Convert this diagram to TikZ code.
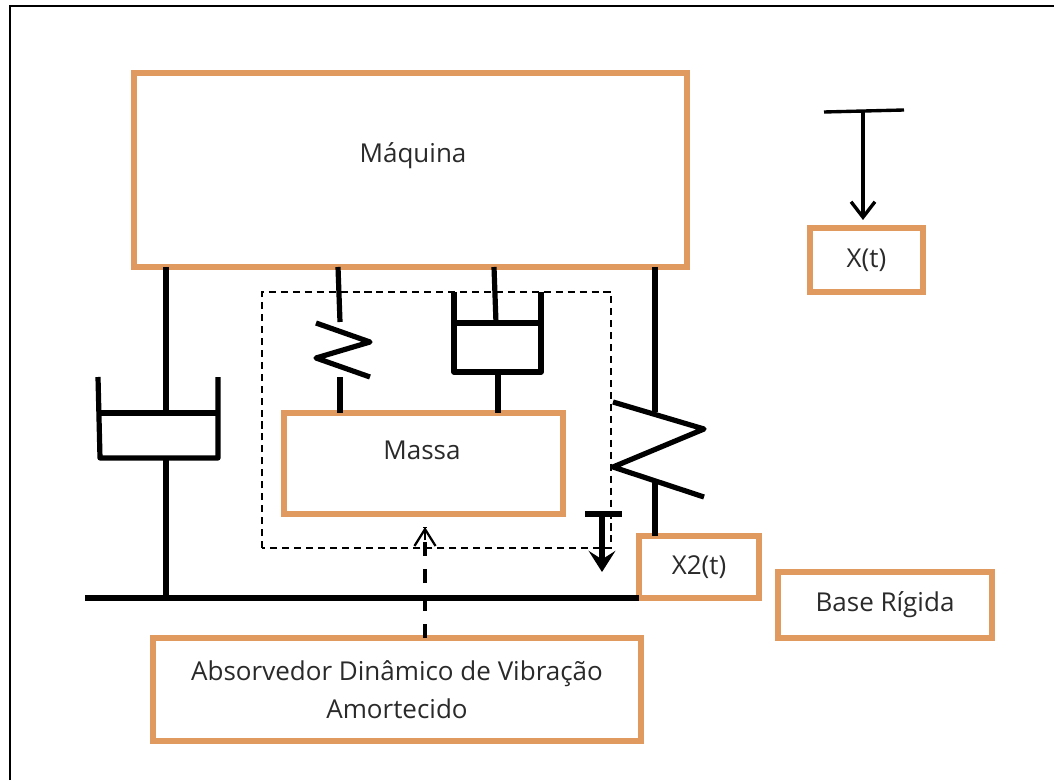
\documentclass[tikz,border=0pt]{standalone}
\usepackage{fontspec}
\setmainfont{Open Sans}
\usepackage{xcolor}
\definecolor{boxOrange}{HTML}{E0995E}
\definecolor{textDark}{HTML}{2A2A2A}
\usepackage{tikz}
\usetikzlibrary{arrows.meta}

\tikzset{
  orangebox/.style={draw=boxOrange, line width=3.6pt, text=textDark, font=\fontsize{18.5}{27}\selectfont,
    align=center, outer sep=0pt, inner sep=0pt},
  labeltext/.style={text=textDark, font=\fontsize{18.5}{27}\selectfont, inner sep=0pt},
  mech/.style={black, line width=3.7pt, line join=round},
  thinmech/.style={black, line width=2.4pt}
}

\begin{document}
\begin{tikzpicture}[>=stealth]
  \useasboundingbox (0,0) rectangle (26.35,19.5);
  \draw[black, line width=1.4pt] (0.25,0) -- (0.25,19.36) -- (26.35,19.36);
  % absorber outline
  \draw[black, line width=0.9pt, dash pattern=on 5pt off 3.5pt] (6.55,5.8) rectangle (15.275,12.2);
  % boxes
  \node[orangebox, minimum width=13.825cm, minimum height=4.85cm] (maquina) at (10.2625,15.25) {};
  \node[labeltext] (maquinaText) at (10.325,15.62) {Máquina};
  \node[orangebox, minimum width=6.975cm, minimum height=2.525cm] (massa) at (10.5875,7.9125) {};
  \node[labeltext] (massaText) at (10.55,8.25) {Massa};
  \node[orangebox, minimum width=2.825cm, minimum height=1.6cm] (xt) at (21.6625,13.0) {X(t)};
  \node[orangebox, minimum width=3.0cm, minimum height=1.55cm] (xtwo) at (17.475,5.325) {X2(t)};
  \node[orangebox, minimum width=5.35cm, minimum height=1.65cm] (base) at (22.125,4.375) {Base Rígida};
  \node[orangebox, minimum width=12.2cm, minimum height=2.575cm] (absorvedor) at (9.925,2.2625)
    {Absorvedor Dinâmico de Vibração\\Amortecido};
  % rigid base
  \coordinate (baseLeft) at (2.125,4.55);
  \draw[mech] (baseLeft) -- (baseLeft -| xtwo.west);
  % main damper
  \coordinate (dampOneTop) at (4.15,9.175);
  \coordinate (dampOneLow) at (4.15,8.05);
  \draw[mech] (maquina.south -| dampOneTop) -- (dampOneTop);
  \draw[mech] (2.5,9.175) -- (5.45,9.175);
  \draw[mech] (2.45,10.075) -- (2.5,8.05) -- (5.45,8.05) -- (5.45,10.075);
  \draw[mech] (dampOneLow) -- (dampOneLow |- baseLeft);
  % main spring
  \coordinate (springOneTop) at (16.375,9.2);
  \coordinate (springOneLow) at (16.375,7.45);
  \draw[mech] (maquina.south -| springOneTop) -- (springOneTop);
  \draw[mech] (15.325,9.45) -- (17.6,8.775) -- (15.325,7.825) -- (17.6,7.075);
  \draw[mech] (springOneLow) -- (springOneLow |- xtwo.north);
  % absorber spring
  \coordinate (springTwoStart) at (8.45,12.825);
  \coordinate (springTwoTop) at (8.5,11.45);
  \coordinate (springTwoLow) at (8.5,10.075);
  \draw[mech] (springTwoStart) -- (springTwoTop);
  \draw[mech] (7.9,11.425) -- (9.25,10.95) -- (7.9,10.55) -- (9.25,10.075);
  \draw[mech] (springTwoLow) -- (springTwoLow |- massa.north);
  % absorber damper
  \coordinate (dampTwoStart) at (12.35,12.825);
  \coordinate (dampTwoTop) at (12.4,11.425);
  \coordinate (dampTwoLow) at (12.45,10.2);
  \draw[mech] (dampTwoStart) -- (dampTwoTop);
  \draw[mech] (11.375,11.425) -- (13.5,11.425);
  \draw[mech] (11.35,12.2) -- (11.35,10.2) -- (13.525,10.2) -- (13.525,12.2);
  \draw[mech] (dampTwoLow) -- (dampTwoLow |- massa.north);
  % displacement arrows
  \coordinate (xBar) at (21.575,16.72);
  \coordinate (xTip) at (21.575,14.0);
  \draw[thinmech] (20.6,16.7) -- (22.6,16.75);
  \draw[thinmech, -{Straight Barb[length=11pt, width=17pt]}] (xBar) -- (xTip);
  \coordinate (xtwoBar) at (15.05,6.65);
  \coordinate (xtwoTip) at (15.05,5.2);
  \draw[mech] (14.625,6.65) -- (15.55,6.65);
  \draw[mech, -{Stealth[length=15pt, width=19pt, inset=6pt]}] (xtwoBar) -- (xtwoTip);
  % absorber pointer
  \coordinate (pointerTip) at (10.625,6.325);
  \draw[black, line width=2.4pt, dash pattern=on 10pt off 9.5pt] (absorvedor.north -| pointerTip) -- (pointerTip);
  \draw[black, line width=1.6pt, -{Straight Barb[length=12pt, width=15pt]}] (10.625,6.0) -- (pointerTip);
\end{tikzpicture}
\end{document}
